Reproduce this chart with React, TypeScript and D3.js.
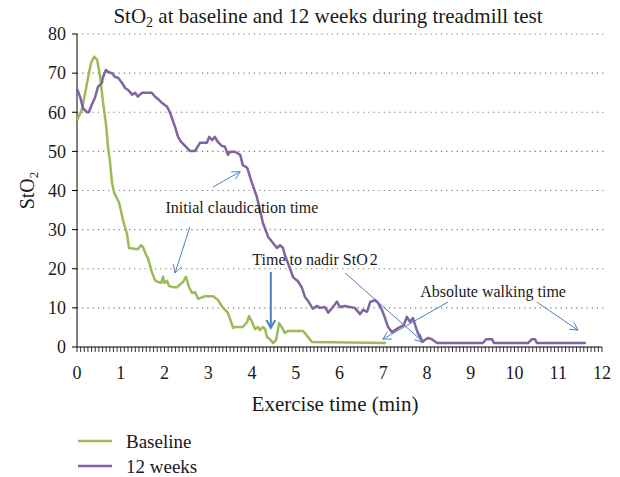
import React, { useEffect } from 'react'
import { scaleLinear, line, range } from 'd3'

// minutes / StO2 (%)
const baselineTime = [0, 0.11, 0.23, 0.32, 0.39, 0.46, 0.53, 0.59, 0.66, 0.71, 0.75, 0.8, 0.85, 0.96, 1.05, 1.14, 1.19, 1.39, 1.46, 1.51, 1.58, 1.62, 1.71, 1.78, 1.85, 1.92, 1.97, 1.99, 2.06, 2.1, 2.19, 2.29, 2.35, 2.42, 2.49, 2.56, 2.63, 2.7, 2.77, 2.93, 3.11, 3.22, 3.34, 3.45, 3.57, 3.61, 3.79, 3.89, 3.93, 4.0, 4.07, 4.14, 4.18, 4.25, 4.3, 4.34, 4.41, 4.48, 4.55, 4.62, 4.69, 4.75, 4.82, 5.17, 5.37, 7.06]
const baselineValue = [58, 60.6, 67.5, 72.6, 74.2, 73.4, 69, 63, 57.3, 51, 47.8, 42, 39.4, 37, 32.5, 29, 25.3, 25, 26, 25.5, 23.5, 22.8, 19.2, 17.1, 16.6, 16.4, 18, 16.4, 16.9, 15.6, 15.3, 15.3, 15.9, 16.6, 17.9, 15.3, 13.8, 14, 12.3, 13, 13, 12, 10, 8.7, 4.9, 5.1, 5.1, 6.4, 7.9, 6.4, 4.6, 5.1, 4.3, 5.1, 4.6, 2.6, 2, 1, 1.8, 6.1, 4.9, 3.6, 4.1, 4.1, 1.3, 1]

const weeksTime = [0, 0.07, 0.14, 0.23, 0.27, 0.34, 0.41, 0.48, 0.57, 0.59, 0.66, 0.71, 0.8, 0.87, 0.94, 1.03, 1.1, 1.17, 1.26, 1.33, 1.39, 1.49, 1.71, 1.78, 1.85, 1.94, 2.06, 2.13, 2.24, 2.31, 2.38, 2.47, 2.58, 2.7, 2.81, 2.97, 3.02, 3.09, 3.15, 3.22, 3.31, 3.38, 3.45, 3.5, 3.61, 3.73, 3.79, 3.89, 4.0, 4.11, 4.18, 4.25, 4.37, 4.48, 4.57, 4.64, 4.71, 4.75, 4.82, 4.87, 4.94, 5.05, 5.14, 5.21, 5.28, 5.39, 5.49, 5.55, 5.67, 5.74, 5.85, 5.94, 6.01, 6.13, 6.24, 6.35, 6.47, 6.54, 6.63, 6.7, 6.81, 6.88, 6.97, 7.04, 7.11, 7.2, 7.27, 7.38, 7.47, 7.54, 7.61, 7.68, 7.73, 7.79, 7.89, 7.95, 8.02, 8.11, 8.23, 9.28, 9.35, 9.49, 9.53, 10.31, 10.4, 10.47, 10.51, 11.63]
const weeksValue = [66, 64, 61, 60, 60, 62, 63.7, 66.5, 67.5, 68.8, 70.8, 70.3, 70, 69, 68.8, 67.5, 66.2, 65.7, 64.5, 65, 64, 65, 65, 64, 63.4, 62.4, 61.4, 59.8, 56.3, 53.7, 52.4, 51.4, 50.1, 50.1, 52.2, 52.2, 53.7, 52.9, 53.7, 52.4, 51.4, 51.2, 49.1, 49.9, 49.9, 49.1, 46.5, 45.8, 41.9, 38.4, 35, 31.7, 28.1, 26.6, 25.3, 26, 25.3, 23.5, 21.5, 20, 17.8, 16.8, 15.2, 12.8, 11.8, 9.8, 10.5, 10, 10.2, 8.8, 10.2, 11.6, 10.2, 10.5, 10.2, 10, 8.4, 9.5, 9, 11.5, 12, 11.3, 9.5, 7.4, 5.1, 3.8, 4.3, 5.1, 5.6, 7.7, 6.4, 7.4, 5.6, 3.6, 1.3, 1.8, 2.3, 2, 1, 1, 2, 2, 1, 1, 2, 2, 1, 1]

const yTicks = [0, 10, 20, 30, 40, 50, 60, 70, 80]
const xTicks = [0, 1, 2, 3, 4, 5, 6, 7, 8, 9, 10, 11, 12]

// annotation labels and arrows, in data units [t0, v0, t1, v1]
const notes = [
  { text: 'Initial claudication time', t: 3.77, v: 35.8 },
  { text: 'Absolute walking time', t: 9.51, v: 14.1 },
]
const arrows = [
  [3.11, 40.9, 3.73, 44.8],
  [2.58, 30.7, 2.24, 18.9],
  [6.13, 18.9, 7.91, 1.3],
  [8.48, 11.5, 6.99, 2.0],
  [10.51, 11.5, 11.45, 4.3],
]
const nadirArrow = [4.43, 19.2, 4.43, 4.9]

const GREEN = '#9bbb59'
const PURPLE = '#8064a2'
const BLUE = '#4f81bd'
const FONT = 'Liberation Serif, DejaVu Serif, serif'
const INK = '#1a1a1a'

const x = scaleLinear().domain([0, 12]).range([77, 602])
const y = scaleLinear().domain([0, 80]).range([347, 34])

function Arrow({ a, width = 1 }: { a: number[], width?: number }) {
  const x0 = x(a[0]), y0 = y(a[1]), x1 = x(a[2]), y1 = y(a[3])
  const ang = Math.atan2(y1 - y0, x1 - x0)
  const len = 9, spread = 0.5
  const h1 = [x1 - len * Math.cos(ang - spread), y1 - len * Math.sin(ang - spread)]
  const h2 = [x1 - len * Math.cos(ang + spread), y1 - len * Math.sin(ang + spread)]
  return (
    <g stroke={BLUE} strokeWidth={width} fill="none">
      <line x1={x0} y1={y0} x2={x1} y2={y1} />
      <polyline points={`${h1[0]},${h1[1]} ${x1},${y1} ${h2[0]},${h2[1]}`} />
    </g>
  )
}

export default function App() {
  useEffect(() => { document.body.style.margin = '0' }, [])

  const baseline = baselineTime.map((t, i) => [t, baselineValue[i]] as [number, number])
  const weeks = weeksTime.map((t, i) => [t, weeksValue[i]] as [number, number])
  const path = line<[number, number]>().x(d => x(d[0])).y(d => y(d[1]))
  const txt = { fontFamily: FONT, fill: INK }

  return (
    <svg width={620} height={477} style={{ display: 'block', background: '#fff' }}>
      <text x={328} y={23} textAnchor="middle" fontSize={21} {...txt}>
        StO<tspan fontSize={14} dy={4}>2</tspan><tspan dy={-4}> at baseline and 12 weeks during treadmill test</tspan>
      </text>

      {/* grid */}
      {yTicks.filter(d => d > 0).map(d => (
        <line key={d} x1={x(0)} x2={606} y1={y(d)} y2={y(d)} stroke="#777" strokeWidth={1.2} strokeDasharray="1.2 4" />
      ))}

      {/* y axis */}
      <line x1={x(0)} x2={x(0)} y1={y(80)} y2={y(0)} stroke="#000" />
      {yTicks.map(d => (
        <g key={d}>
          <line x1={x(0) - 5} x2={x(0)} y1={y(d)} y2={y(d)} stroke="#000" />
          <text x={x(0) - 11} y={y(d)} dy="0.35em" textAnchor="end" fontSize={18} {...txt}>{d}</text>
        </g>
      ))}

      {/* x axis */}
      <line x1={x(0)} x2={x(12)} y1={y(0)} y2={y(0)} stroke="#000" />
      {range(0, 145).map(i => (
        <line key={i} x1={x(i / 12)} x2={x(i / 12)} y1={y(0)} y2={y(0) + 5} stroke="#000" strokeWidth={0.8} />
      ))}
      {xTicks.map(d => (
        <text key={d} x={x(d)} y={y(0) + 32} textAnchor="middle" fontSize={18} {...txt}>{d}</text>
      ))}

      <text x={335} y={411} textAnchor="middle" fontSize={21} {...txt}>Exercise time (min)</text>
      <text transform={`translate(34,${y(40)}) rotate(-90)`} textAnchor="middle" fontSize={20} {...txt}>
        StO<tspan fontSize={13} dy={4}>2</tspan>
      </text>

      {/* series */}
      <path d={path(baseline) || ''} fill="none" stroke={GREEN} strokeWidth={2.5} strokeLinejoin="round" />
      <path d={path(weeks) || ''} fill="none" stroke={PURPLE} strokeWidth={2.5} strokeLinejoin="round" />

      {/* annotations */}
      {arrows.map((a, i) => <Arrow key={i} a={a} />)}
      <Arrow a={nadirArrow} width={2} />
      {notes.map(n => (
        <text key={n.text} x={x(n.t)} y={y(n.v)} dy="0.35em" textAnchor="middle" fontSize={16} {...txt}>{n.text}</text>
      ))}
      <text x={x(5.44)} y={y(22.3)} dy="0.35em" textAnchor="middle" fontSize={16} {...txt}>
        Time to nadir StO<tspan dx={2}>2</tspan>
      </text>

      {/* legend */}
      <line x1={78} x2={112} y1={441} y2={441} stroke={GREEN} strokeWidth={2.5} />
      <text x={126} y={441} dy="0.35em" fontSize={19} {...txt}>Baseline</text>
      <line x1={78} x2={112} y1={466} y2={466} stroke={PURPLE} strokeWidth={2.5} />
      <text x={126} y={466} dy="0.35em" fontSize={19} {...txt}>12 weeks</text>
    </svg>
  )
}
